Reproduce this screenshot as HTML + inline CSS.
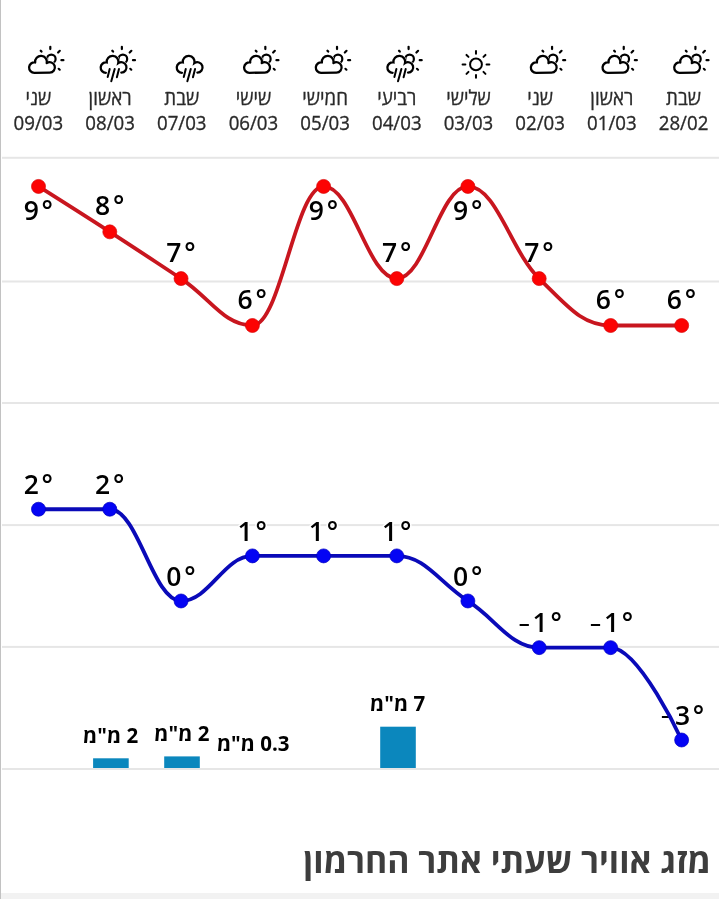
<!DOCTYPE html>
<html lang="he"><head><meta charset="utf-8"><title>מזג אוויר שעתי אתר החרמון</title>
<style>
html,body{margin:0;padding:0;background:#fff;}
#wrap{position:relative;width:719px;height:899px;overflow:hidden;background:#fff;}
#lb{position:absolute;left:0;top:0;width:1px;height:899px;background:#c2c2c2;}
#bb{position:absolute;left:0;top:893px;width:719px;height:6px;background:#f2f2f2;}
svg{position:absolute;left:0;top:0;will-change:transform;}
text{font-family:"Open Sans","Liberation Sans","DejaVu Sans",sans-serif;}
.day{font-size:18.7px;fill:#2a2a2a;stroke:#2a2a2a;stroke-width:0.3px;text-anchor:middle;direction:rtl;}
.date{font-size:18.7px;fill:#2a2a2a;stroke:#2a2a2a;stroke-width:0.3px;text-anchor:middle;}
.tl{font-size:26.5px;font-weight:600;fill:#000;text-anchor:middle;letter-spacing:2.8px;paint-order:stroke;stroke:#fff;stroke-width:3px;stroke-linejoin:round;}
.rl{font-size:20.5px;font-weight:700;fill:#000;text-anchor:middle;direction:rtl;}
.title{font-size:33.9px;font-weight:700;fill:#3d3d3d;text-anchor:start;direction:rtl;}
</style></head>
<body><div id="wrap">
<div id="bb"></div>
<svg width="719" height="899" viewBox="0 0 719 899">
<rect x="2" y="156.8" width="717" height="2" fill="#e6e6e6"/>
<rect x="2" y="280.5" width="717" height="2" fill="#e6e6e6"/>
<rect x="2" y="402.0" width="717" height="2" fill="#e6e6e6"/>
<rect x="2" y="524.1" width="717" height="2" fill="#e6e6e6"/>
<rect x="2" y="645.9" width="717" height="2" fill="#e6e6e6"/>
<rect x="2" y="768.0" width="717" height="2" fill="#e6e6e6"/>
<circle cx="51.30" cy="58.9" r="4.3" fill="#fff" stroke="#000" stroke-width="2.2"/><line x1="50.30" y1="46.80" x2="50.30" y2="49.10" stroke="#000" stroke-width="2.2" stroke-linecap="round"/><line x1="58.10" y1="52.50" x2="59.80" y2="50.80" stroke="#000" stroke-width="2.2" stroke-linecap="round"/><line x1="61.40" y1="60.20" x2="63.40" y2="60.20" stroke="#000" stroke-width="2.2" stroke-linecap="round"/><line x1="58.70" y1="68.80" x2="59.70" y2="69.70" stroke="#000" stroke-width="2.2" stroke-linecap="round"/><line x1="40.70" y1="50.70" x2="41.50" y2="51.60" stroke="#000" stroke-width="2.2" stroke-linecap="round"/><path d="M34.30,72.80 A5.2,5.2 0 1 1 35.15,62.47 A5.9,5.9 0 1 1 46.72,63.14 A5.2,5.2 0 1 1 49.70,72.60 Z" fill="#fff" stroke="#fff" stroke-width="3.0999999999999996" stroke-linejoin="round"/><path d="M34.30,72.80 A5.2,5.2 0 1 1 35.15,62.47 A5.9,5.9 0 1 1 46.72,63.14 A5.2,5.2 0 1 1 49.70,72.60 Z" fill="#fff" stroke="#000" stroke-width="2.3" stroke-linejoin="round"/>
<text transform="translate(38.40,104.8) scale(1,1.08)" class="day">שני</text>
<text transform="translate(38.40,129.8) scale(1,1.05)" class="date">09/03</text>
<circle cx="122.88" cy="58.9" r="4.3" fill="#fff" stroke="#000" stroke-width="2.2"/><line x1="121.88" y1="46.80" x2="121.88" y2="49.10" stroke="#000" stroke-width="2.2" stroke-linecap="round"/><line x1="129.68" y1="52.50" x2="131.38" y2="50.80" stroke="#000" stroke-width="2.2" stroke-linecap="round"/><line x1="132.98" y1="60.20" x2="134.98" y2="60.20" stroke="#000" stroke-width="2.2" stroke-linecap="round"/><line x1="130.28" y1="68.80" x2="131.28" y2="69.70" stroke="#000" stroke-width="2.2" stroke-linecap="round"/><line x1="112.28" y1="50.70" x2="113.08" y2="51.60" stroke="#000" stroke-width="2.2" stroke-linecap="round"/><path d="M105.88,72.80 A5.2,5.2 0 1 1 106.73,62.47 A5.9,5.9 0 1 1 118.30,63.14 A5.2,5.2 0 1 1 121.28,72.60" fill="none" stroke="#fff" stroke-width="3.0999999999999996" stroke-linecap="round"/><path d="M105.88,72.80 A5.2,5.2 0 1 1 106.73,62.47 A5.9,5.9 0 1 1 118.30,63.14 A5.2,5.2 0 1 1 121.28,72.60 Z" fill="#fff" stroke="none"/><path d="M105.88,72.80 A5.2,5.2 0 1 1 106.73,62.47 A5.9,5.9 0 1 1 118.30,63.14 A5.2,5.2 0 1 1 121.28,72.60" fill="none" stroke="#000" stroke-width="2.3" stroke-linecap="round"/><line x1="109.68" y1="68.90" x2="107.68" y2="77.00" stroke="#000" stroke-width="2.0" stroke-linecap="round"/><line x1="114.68" y1="68.90" x2="111.28" y2="81.20" stroke="#000" stroke-width="2.0" stroke-linecap="round"/><line x1="118.98" y1="68.90" x2="116.88" y2="77.20" stroke="#000" stroke-width="2.0" stroke-linecap="round"/>
<text transform="translate(110.08,104.8) scale(1,1.08)" class="day">ראשון</text>
<text transform="translate(110.08,129.8) scale(1,1.05)" class="date">08/03</text>
<path d="M181.96,72.80 A5.2,5.2 0 1 1 182.81,62.47 A5.9,5.9 0 1 1 194.38,63.14 A5.2,5.2 0 1 1 197.36,72.60" fill="none" stroke="#fff" stroke-width="3.0999999999999996" stroke-linecap="round"/><path d="M181.96,72.80 A5.2,5.2 0 1 1 182.81,62.47 A5.9,5.9 0 1 1 194.38,63.14 A5.2,5.2 0 1 1 197.36,72.60 Z" fill="#fff" stroke="none"/><path d="M181.96,72.80 A5.2,5.2 0 1 1 182.81,62.47 A5.9,5.9 0 1 1 194.38,63.14 A5.2,5.2 0 1 1 197.36,72.60" fill="none" stroke="#000" stroke-width="2.3" stroke-linecap="round"/><line x1="185.76" y1="68.90" x2="183.76" y2="77.00" stroke="#000" stroke-width="2.0" stroke-linecap="round"/><line x1="190.76" y1="68.90" x2="187.36" y2="81.20" stroke="#000" stroke-width="2.0" stroke-linecap="round"/><line x1="195.06" y1="68.90" x2="192.96" y2="77.20" stroke="#000" stroke-width="2.0" stroke-linecap="round"/>
<text transform="translate(181.76,104.8) scale(1,1.08)" class="day">שבת</text>
<text transform="translate(181.76,129.8) scale(1,1.05)" class="date">07/03</text>
<circle cx="266.34" cy="58.9" r="4.3" fill="#fff" stroke="#000" stroke-width="2.2"/><line x1="265.34" y1="46.80" x2="265.34" y2="49.10" stroke="#000" stroke-width="2.2" stroke-linecap="round"/><line x1="273.14" y1="52.50" x2="274.84" y2="50.80" stroke="#000" stroke-width="2.2" stroke-linecap="round"/><line x1="276.44" y1="60.20" x2="278.44" y2="60.20" stroke="#000" stroke-width="2.2" stroke-linecap="round"/><line x1="273.74" y1="68.80" x2="274.74" y2="69.70" stroke="#000" stroke-width="2.2" stroke-linecap="round"/><line x1="255.74" y1="50.70" x2="256.54" y2="51.60" stroke="#000" stroke-width="2.2" stroke-linecap="round"/><path d="M249.34,72.80 A5.2,5.2 0 1 1 250.19,62.47 A5.9,5.9 0 1 1 261.76,63.14 A5.2,5.2 0 1 1 264.74,72.60 Z" fill="#fff" stroke="#fff" stroke-width="3.0999999999999996" stroke-linejoin="round"/><path d="M249.34,72.80 A5.2,5.2 0 1 1 250.19,62.47 A5.9,5.9 0 1 1 261.76,63.14 A5.2,5.2 0 1 1 264.74,72.60 Z" fill="#fff" stroke="#000" stroke-width="2.3" stroke-linejoin="round"/>
<text transform="translate(253.44,104.8) scale(1,1.08)" class="day">שישי</text>
<text transform="translate(253.44,129.8) scale(1,1.05)" class="date">06/03</text>
<circle cx="338.02" cy="58.9" r="4.3" fill="#fff" stroke="#000" stroke-width="2.2"/><line x1="337.02" y1="46.80" x2="337.02" y2="49.10" stroke="#000" stroke-width="2.2" stroke-linecap="round"/><line x1="344.82" y1="52.50" x2="346.52" y2="50.80" stroke="#000" stroke-width="2.2" stroke-linecap="round"/><line x1="348.12" y1="60.20" x2="350.12" y2="60.20" stroke="#000" stroke-width="2.2" stroke-linecap="round"/><line x1="345.42" y1="68.80" x2="346.42" y2="69.70" stroke="#000" stroke-width="2.2" stroke-linecap="round"/><line x1="327.42" y1="50.70" x2="328.22" y2="51.60" stroke="#000" stroke-width="2.2" stroke-linecap="round"/><path d="M321.02,72.80 A5.2,5.2 0 1 1 321.87,62.47 A5.9,5.9 0 1 1 333.44,63.14 A5.2,5.2 0 1 1 336.42,72.60 Z" fill="#fff" stroke="#fff" stroke-width="3.0999999999999996" stroke-linejoin="round"/><path d="M321.02,72.80 A5.2,5.2 0 1 1 321.87,62.47 A5.9,5.9 0 1 1 333.44,63.14 A5.2,5.2 0 1 1 336.42,72.60 Z" fill="#fff" stroke="#000" stroke-width="2.3" stroke-linejoin="round"/>
<text transform="translate(325.12,104.8) scale(1,1.08)" class="day">חמישי</text>
<text transform="translate(325.12,129.8) scale(1,1.05)" class="date">05/03</text>
<circle cx="409.60" cy="58.9" r="4.3" fill="#fff" stroke="#000" stroke-width="2.2"/><line x1="408.60" y1="46.80" x2="408.60" y2="49.10" stroke="#000" stroke-width="2.2" stroke-linecap="round"/><line x1="416.40" y1="52.50" x2="418.10" y2="50.80" stroke="#000" stroke-width="2.2" stroke-linecap="round"/><line x1="419.70" y1="60.20" x2="421.70" y2="60.20" stroke="#000" stroke-width="2.2" stroke-linecap="round"/><line x1="417.00" y1="68.80" x2="418.00" y2="69.70" stroke="#000" stroke-width="2.2" stroke-linecap="round"/><line x1="399.00" y1="50.70" x2="399.80" y2="51.60" stroke="#000" stroke-width="2.2" stroke-linecap="round"/><path d="M392.60,72.80 A5.2,5.2 0 1 1 393.45,62.47 A5.9,5.9 0 1 1 405.02,63.14 A5.2,5.2 0 1 1 408.00,72.60" fill="none" stroke="#fff" stroke-width="3.0999999999999996" stroke-linecap="round"/><path d="M392.60,72.80 A5.2,5.2 0 1 1 393.45,62.47 A5.9,5.9 0 1 1 405.02,63.14 A5.2,5.2 0 1 1 408.00,72.60 Z" fill="#fff" stroke="none"/><path d="M392.60,72.80 A5.2,5.2 0 1 1 393.45,62.47 A5.9,5.9 0 1 1 405.02,63.14 A5.2,5.2 0 1 1 408.00,72.60" fill="none" stroke="#000" stroke-width="2.3" stroke-linecap="round"/><line x1="396.40" y1="68.90" x2="394.40" y2="77.00" stroke="#000" stroke-width="2.0" stroke-linecap="round"/><line x1="401.40" y1="68.90" x2="398.00" y2="81.20" stroke="#000" stroke-width="2.0" stroke-linecap="round"/><line x1="405.70" y1="68.90" x2="403.60" y2="77.20" stroke="#000" stroke-width="2.0" stroke-linecap="round"/>
<text transform="translate(396.80,104.8) scale(1,1.08)" class="day">רביעי</text>
<text transform="translate(396.80,129.8) scale(1,1.05)" class="date">04/03</text>
<circle cx="475.98" cy="64.4" r="5.9" fill="none" stroke="#000" stroke-width="2"/><line x1="486.58" y1="64.40" x2="489.38" y2="64.40" stroke="#000" stroke-width="2.0" stroke-linecap="round"/><line x1="483.48" y1="71.90" x2="485.46" y2="73.88" stroke="#000" stroke-width="2.0" stroke-linecap="round"/><line x1="475.98" y1="75.00" x2="475.98" y2="77.80" stroke="#000" stroke-width="2.0" stroke-linecap="round"/><line x1="468.48" y1="71.90" x2="466.50" y2="73.88" stroke="#000" stroke-width="2.0" stroke-linecap="round"/><line x1="465.38" y1="64.40" x2="462.58" y2="64.40" stroke="#000" stroke-width="2.0" stroke-linecap="round"/><line x1="468.48" y1="56.90" x2="466.50" y2="54.92" stroke="#000" stroke-width="2.0" stroke-linecap="round"/><line x1="475.98" y1="53.80" x2="475.98" y2="51.00" stroke="#000" stroke-width="2.0" stroke-linecap="round"/><line x1="483.48" y1="56.90" x2="485.46" y2="54.92" stroke="#000" stroke-width="2.0" stroke-linecap="round"/>
<text transform="translate(468.48,104.8) scale(1,1.08)" class="day">שלישי</text>
<text transform="translate(468.48,129.8) scale(1,1.05)" class="date">03/03</text>
<circle cx="553.06" cy="58.9" r="4.3" fill="#fff" stroke="#000" stroke-width="2.2"/><line x1="552.06" y1="46.80" x2="552.06" y2="49.10" stroke="#000" stroke-width="2.2" stroke-linecap="round"/><line x1="559.86" y1="52.50" x2="561.56" y2="50.80" stroke="#000" stroke-width="2.2" stroke-linecap="round"/><line x1="563.16" y1="60.20" x2="565.16" y2="60.20" stroke="#000" stroke-width="2.2" stroke-linecap="round"/><line x1="560.46" y1="68.80" x2="561.46" y2="69.70" stroke="#000" stroke-width="2.2" stroke-linecap="round"/><line x1="542.46" y1="50.70" x2="543.26" y2="51.60" stroke="#000" stroke-width="2.2" stroke-linecap="round"/><path d="M536.06,72.80 A5.2,5.2 0 1 1 536.91,62.47 A5.9,5.9 0 1 1 548.48,63.14 A5.2,5.2 0 1 1 551.46,72.60 Z" fill="#fff" stroke="#fff" stroke-width="3.0999999999999996" stroke-linejoin="round"/><path d="M536.06,72.80 A5.2,5.2 0 1 1 536.91,62.47 A5.9,5.9 0 1 1 548.48,63.14 A5.2,5.2 0 1 1 551.46,72.60 Z" fill="#fff" stroke="#000" stroke-width="2.3" stroke-linejoin="round"/>
<text transform="translate(540.16,104.8) scale(1,1.08)" class="day">שני</text>
<text transform="translate(540.16,129.8) scale(1,1.05)" class="date">02/03</text>
<circle cx="624.74" cy="58.9" r="4.3" fill="#fff" stroke="#000" stroke-width="2.2"/><line x1="623.74" y1="46.80" x2="623.74" y2="49.10" stroke="#000" stroke-width="2.2" stroke-linecap="round"/><line x1="631.54" y1="52.50" x2="633.24" y2="50.80" stroke="#000" stroke-width="2.2" stroke-linecap="round"/><line x1="634.84" y1="60.20" x2="636.84" y2="60.20" stroke="#000" stroke-width="2.2" stroke-linecap="round"/><line x1="632.14" y1="68.80" x2="633.14" y2="69.70" stroke="#000" stroke-width="2.2" stroke-linecap="round"/><line x1="614.14" y1="50.70" x2="614.94" y2="51.60" stroke="#000" stroke-width="2.2" stroke-linecap="round"/><path d="M607.74,72.80 A5.2,5.2 0 1 1 608.59,62.47 A5.9,5.9 0 1 1 620.16,63.14 A5.2,5.2 0 1 1 623.14,72.60 Z" fill="#fff" stroke="#fff" stroke-width="3.0999999999999996" stroke-linejoin="round"/><path d="M607.74,72.80 A5.2,5.2 0 1 1 608.59,62.47 A5.9,5.9 0 1 1 620.16,63.14 A5.2,5.2 0 1 1 623.14,72.60 Z" fill="#fff" stroke="#000" stroke-width="2.3" stroke-linejoin="round"/>
<text transform="translate(611.84,104.8) scale(1,1.08)" class="day">ראשון</text>
<text transform="translate(611.84,129.8) scale(1,1.05)" class="date">01/03</text>
<circle cx="696.42" cy="58.9" r="4.3" fill="#fff" stroke="#000" stroke-width="2.2"/><line x1="695.42" y1="46.80" x2="695.42" y2="49.10" stroke="#000" stroke-width="2.2" stroke-linecap="round"/><line x1="703.22" y1="52.50" x2="704.92" y2="50.80" stroke="#000" stroke-width="2.2" stroke-linecap="round"/><line x1="706.52" y1="60.20" x2="708.52" y2="60.20" stroke="#000" stroke-width="2.2" stroke-linecap="round"/><line x1="703.82" y1="68.80" x2="704.82" y2="69.70" stroke="#000" stroke-width="2.2" stroke-linecap="round"/><line x1="685.82" y1="50.70" x2="686.62" y2="51.60" stroke="#000" stroke-width="2.2" stroke-linecap="round"/><path d="M679.42,72.80 A5.2,5.2 0 1 1 680.27,62.47 A5.9,5.9 0 1 1 691.84,63.14 A5.2,5.2 0 1 1 694.82,72.60 Z" fill="#fff" stroke="#fff" stroke-width="3.0999999999999996" stroke-linejoin="round"/><path d="M679.42,72.80 A5.2,5.2 0 1 1 680.27,62.47 A5.9,5.9 0 1 1 691.84,63.14 A5.2,5.2 0 1 1 694.82,72.60 Z" fill="#fff" stroke="#000" stroke-width="2.3" stroke-linejoin="round"/>
<text transform="translate(683.52,104.8) scale(1,1.08)" class="day">שבת</text>
<text transform="translate(683.52,129.8) scale(1,1.05)" class="date">28/02</text>
<rect x="93.1" y="758.3" width="35.6" height="9.7" fill="#0b87bd"/>
<rect x="164.2" y="756.4" width="35.6" height="11.6" fill="#0b87bd"/>
<rect x="380.2" y="726.7" width="35.6" height="41.3" fill="#0b87bd"/>
<text x="110.60" y="743.0" class="rl">2 מ"מ</text>
<text x="181.85" y="741.2" class="rl">2 מ"מ</text>
<text x="253.20" y="751.3" class="rl">0.3 מ"מ</text>
<text x="397.60" y="710.6" class="rl">7 מ"מ</text>
<text x="39.70" y="219.5" class="tl">9°</text>
<text x="111.00" y="215.4" class="tl">8°</text>
<text x="182.25" y="262.2" class="tl">7°</text>
<text x="253.60" y="309.1" class="tl">6°</text>
<text x="324.80" y="219.5" class="tl">9°</text>
<text x="398.00" y="262.2" class="tl">7°</text>
<text x="469.10" y="219.5" class="tl">9°</text>
<text x="540.40" y="262.2" class="tl">7°</text>
<text x="611.85" y="309.1" class="tl">6°</text>
<text x="682.85" y="309.1" class="tl">6°</text>
<text x="39.70" y="493.9" class="tl">2°</text>
<text x="111.00" y="493.9" class="tl">2°</text>
<text x="182.25" y="585.7" class="tl">0°</text>
<text x="253.60" y="540.6" class="tl">1°</text>
<text x="324.80" y="540.6" class="tl">1°</text>
<text x="398.00" y="540.6" class="tl">1°</text>
<text x="469.10" y="585.7" class="tl">0°</text>
<text x="541.60" y="632.3" class="tl"><tspan style="font-size:22px" dy="-1.8">–</tspan><tspan dy="1.8">1°</tspan></text>
<text x="613.05" y="632.3" class="tl"><tspan style="font-size:22px" dy="-1.8">–</tspan><tspan dy="1.8">1°</tspan></text>
<text x="684.05" y="724.7" class="tl"><tspan style="font-size:22px" dy="-1.8">–</tspan><tspan dy="1.8">3°</tspan></text>
<path d="M38.50,186.45 C38.50,186.45 81.28,213.41 109.80,231.85 C138.30,250.27 152.55,259.88 181.05,278.60 C209.59,297.34 223.86,325.50 252.40,325.50 C280.88,325.50 295.12,186.45 323.60,186.45 C352.88,186.45 367.52,278.60 396.80,278.60 C425.24,278.60 439.46,186.45 467.90,186.45 C496.42,186.45 510.68,250.82 539.20,278.60 C567.78,306.44 582.07,325.50 610.65,325.50 C639.05,325.50 681.65,325.50 681.65,325.50" fill="none" stroke="#c8161f" stroke-width="3.8" stroke-linejoin="round" stroke-linecap="round"/>
<path d="M38.50,509.23 C38.50,509.23 81.28,509.23 109.80,509.23 C138.30,509.23 152.55,600.97 181.05,600.97 C209.59,600.97 223.86,555.88 252.40,555.88 C280.88,555.88 295.12,555.88 323.60,555.88 C352.88,555.88 367.52,555.88 396.80,555.88 C425.24,555.88 439.46,582.64 467.90,600.97 C496.42,619.35 510.68,647.64 539.20,647.64 C567.78,647.64 582.07,647.64 610.65,647.64 C639.05,647.64 681.65,740.00 681.65,740.00" fill="none" stroke="#0a0ab8" stroke-width="3.8" stroke-linejoin="round" stroke-linecap="round"/>
<circle cx="38.50" cy="186.45" r="7.0" fill="#fc0303" stroke="#d80808" stroke-width="0.7"/>
<circle cx="109.80" cy="231.85" r="7.0" fill="#fc0303" stroke="#d80808" stroke-width="0.7"/>
<circle cx="181.05" cy="278.60" r="7.0" fill="#fc0303" stroke="#d80808" stroke-width="0.7"/>
<circle cx="252.40" cy="325.50" r="7.0" fill="#fc0303" stroke="#d80808" stroke-width="0.7"/>
<circle cx="323.60" cy="186.45" r="7.0" fill="#fc0303" stroke="#d80808" stroke-width="0.7"/>
<circle cx="396.80" cy="278.60" r="7.0" fill="#fc0303" stroke="#d80808" stroke-width="0.7"/>
<circle cx="467.90" cy="186.45" r="7.0" fill="#fc0303" stroke="#d80808" stroke-width="0.7"/>
<circle cx="539.20" cy="278.60" r="7.0" fill="#fc0303" stroke="#d80808" stroke-width="0.7"/>
<circle cx="610.65" cy="325.50" r="7.0" fill="#fc0303" stroke="#d80808" stroke-width="0.7"/>
<circle cx="681.65" cy="325.50" r="7.0" fill="#fc0303" stroke="#d80808" stroke-width="0.7"/>
<circle cx="38.50" cy="509.23" r="7.0" fill="#0404f4" stroke="#0000c0" stroke-width="0.7"/>
<circle cx="109.80" cy="509.23" r="7.0" fill="#0404f4" stroke="#0000c0" stroke-width="0.7"/>
<circle cx="181.05" cy="600.97" r="7.0" fill="#0404f4" stroke="#0000c0" stroke-width="0.7"/>
<circle cx="252.40" cy="555.88" r="7.0" fill="#0404f4" stroke="#0000c0" stroke-width="0.7"/>
<circle cx="323.60" cy="555.88" r="7.0" fill="#0404f4" stroke="#0000c0" stroke-width="0.7"/>
<circle cx="396.80" cy="555.88" r="7.0" fill="#0404f4" stroke="#0000c0" stroke-width="0.7"/>
<circle cx="467.90" cy="600.97" r="7.0" fill="#0404f4" stroke="#0000c0" stroke-width="0.7"/>
<circle cx="539.20" cy="647.64" r="7.0" fill="#0404f4" stroke="#0000c0" stroke-width="0.7"/>
<circle cx="610.65" cy="647.64" r="7.0" fill="#0404f4" stroke="#0000c0" stroke-width="0.7"/>
<circle cx="681.65" cy="740.00" r="7.0" fill="#0404f4" stroke="#0000c0" stroke-width="0.7"/>
<text x="711" y="873" class="title">מזג אוויר שעתי אתר החרמון</text>
</svg>
<div id="lb"></div>
</div></body></html>
